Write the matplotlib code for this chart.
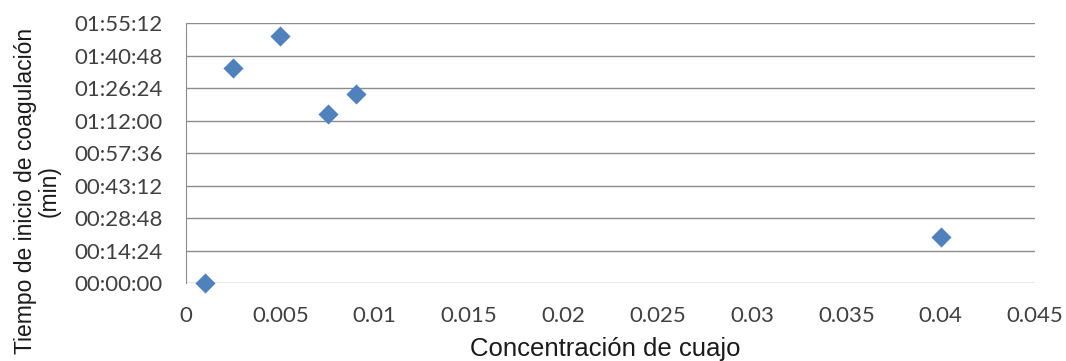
import matplotlib.pyplot as plt
from matplotlib.ticker import FuncFormatter, MultipleLocator

plt.rcParams['font.family'] = ['Liberation Sans', 'DejaVu Sans']

# concentracion de cuajo vs tiempo de inicio de coagulacion (segundos)
concentracion = [0.001, 0.0025, 0.005, 0.0075, 0.009, 0.04]
tiempo_seg = [0, 5716, 6574, 4493, 5025, 1223]

x_ticks = [0, 0.005, 0.01, 0.015, 0.02, 0.025, 0.03, 0.035, 0.04, 0.045]
x_labels = ['0', '0.005', '0.01', '0.015', '0.02', '0.025', '0.03', '0.035', '0.04', '0.045']


def hms(v, pos=None):
    v = int(round(v))
    return '%02d:%02d:%02d' % (v // 3600, (v % 3600) // 60, v % 60)


text_color = '#404040'
grid_color = '#8c8c8c'

fig = plt.figure(figsize=(10.66, 3.61), dpi=100)
ax = fig.add_axes([0.1745, 0.2152, 0.7965, 0.7203])

ax.scatter(concentracion, tiempo_seg, marker='D', s=105, color='#4f81bd',
           zorder=3, clip_on=False, linewidths=0)

ax.set_xlim(0, 0.045)
ax.set_ylim(0, 6912)
ax.yaxis.set_major_locator(MultipleLocator(864))
ax.yaxis.set_major_formatter(FuncFormatter(hms))
ax.set_xticks(x_ticks)
ax.set_xticklabels(x_labels)

ax.grid(axis='y', color=grid_color, linewidth=1)
ax.set_axisbelow(True)
for s in ['top', 'right', 'bottom']:
    ax.spines[s].set_visible(False)
ax.spines['left'].set_color(grid_color)
ax.tick_params(length=0, labelsize=16, colors=text_color)
ax.tick_params(axis='x', pad=16)
ax.tick_params(axis='y', pad=17)
for lab in ax.get_xticklabels() + ax.get_yticklabels():
    lab.set_family('Lato')

# axis titles placed in figure coordinates
fig.text(605 / 1066, 1 - 356 / 361, 'Concentración de cuajo', fontsize=18.5,
         color='#1a1a1a', ha='center', va='baseline')
fig.text(37 / 1066, 1 - 191 / 361, 'Tiempo de inicio de coagulación\n(min)',
         fontsize=16.5, color='#1a1a1a', rotation=90, ha='center', va='center',
         multialignment='center', linespacing=1.05)

fig.savefig('out.png', dpi=100)
